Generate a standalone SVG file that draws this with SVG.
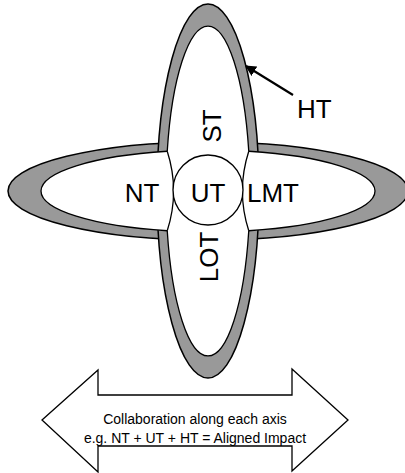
<svg xmlns="http://www.w3.org/2000/svg" width="405" height="473" viewBox="0 0 405 473">
<defs>
<style>
.band{fill:#999999;stroke:#000;stroke-width:1.5}
.hole{fill:#fff;stroke:none}
.edge{fill:none;stroke:#000;stroke-width:1.3}
.lbl{font-family:"Liberation Sans",Arial,sans-serif;font-size:26px;fill:#000}
.cap{font-family:"Liberation Sans",Arial,sans-serif;font-size:14px;fill:#000}
</style>
<marker id="ah" viewBox="0 0 10 10" refX="9" refY="5" markerWidth="5" markerHeight="5" orient="auto">
<path d="M0,0 L10,5 L0,10 z" fill="#000"/>
</marker>
</defs>
<rect width="405" height="473" fill="#fff"/>
<g id="petals">
<ellipse class="band" cx="208" cy="191" rx="200" ry="49"/>
<ellipse class="band" cx="208" cy="191" rx="51" ry="187"/>
<ellipse class="hole" cx="208" cy="191" rx="167" ry="41"/>
<ellipse class="hole" cx="208" cy="191" rx="42" ry="165"/>
<path class="edge" d="M167.24,151.24 A42,165 0 0 1 248.76,151.24"/>
<path class="edge" d="M167.24,230.76 A42,165 0 0 0 248.76,230.76"/>
<path class="edge" d="M167.24,151.24 A167,41 0 0 0 167.24,230.76"/>
<path class="edge" d="M248.76,151.24 A167,41 0 0 1 248.76,230.76"/>
<path class="edge" d="M167.24,151.24 Q180,191 167.24,230.76"/>
<path class="edge" d="M248.76,151.24 Q236,191 248.76,230.76"/>
</g>
<g id="node-ST"><text class="lbl" transform="translate(221,126) rotate(-90)" text-anchor="middle">ST</text></g>
<g id="node-LOT"><text class="lbl" transform="translate(218,257) rotate(-90)" text-anchor="middle">LOT</text></g>
<g id="node-NT"><text class="lbl" x="142" y="202" text-anchor="middle">NT</text></g>
<g id="node-UT">
<circle cx="208" cy="190" r="35" fill="#fff" stroke="#000" stroke-width="1.3"/>
<text class="lbl" x="208" y="202" text-anchor="middle">UT</text>
</g>
<g id="node-LMT"><text class="lbl" x="247" y="202">LMT</text></g>
<g id="node-HT"><text class="lbl" x="297" y="118">HT</text></g>
<g id="connectors">
<line x1="293" y1="95" x2="246" y2="66" stroke="#000" stroke-width="2.2" marker-end="url(#ah)"/>
</g>
<g id="node-axis">
<path d="M42,420 L98,370 L98,395 L292,395 L292,369 L348,420 L292,471 L292,446 L98,446 L98,472 Z" fill="#fff" stroke="#000" stroke-width="1.3"/>
<text class="cap" x="195" y="424" text-anchor="middle">Collaboration along each axis</text>
<text class="cap" x="195" y="443" text-anchor="middle">e.g. NT + UT + HT = Aligned Impact</text>
</g>
</svg>
